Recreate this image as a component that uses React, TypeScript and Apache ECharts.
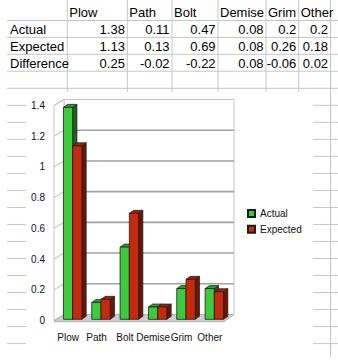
import React, { useEffect, useRef } from 'react';
import * as echarts from 'echarts';

// ---------- data ----------
const categories = ['Plow', 'Path', 'Bolt', 'Demise', 'Grim', 'Other'];
const actual = [1.38, 0.11, 0.47, 0.08, 0.2, 0.2];
const expected = [1.13, 0.13, 0.69, 0.08, 0.26, 0.18];
const difference = [0.25, -0.02, -0.22, 0.08, -0.06, 0.02];
const rowLabels = ['Actual', 'Expected', 'Difference'];
const seriesNames = ['Actual', 'Expected'];
const yTicks = [0, 0.2, 0.4, 0.6, 0.8, 1, 1.2, 1.4];
const Y_MIN = 0;
const Y_MAX = 1.4;
const Y_STEP = 0.2;

// ---------- layout / style ----------
const W = 338;
const H = 363;
const FONT = '"Liberation Sans", Arial, sans-serif';
const SHEET_LINE = '#c6c6c6';
const COL_X = [67.3, 127.3, 172, 218, 266, 298.7, 330.5];
const ROW_LINES_Y = [20.5, 37.4, 54.3, 71.2, 88.3];
const ROW_TEXT_Y = [12.7, 29.3, 46.3, 63.3];
const CHART_BOX = { x0: 26, x1: 313, y0: 92 };
const FRONT = { left: 54, top: 105.5, width: 170, height: 215 };
const WALL_DX = 10;
const WALL_DY = -6;
const BAR_SHIFT = { dx: 4.5, dy: -1.2 };
const BAR_DX = 4.3;
const BAR_DY = -3;
const BAR_FRAC = 0.326;

const COLORS = [
  { front: '#3dcb3d', top: '#2f9c2f', side: '#1d611d' },
  { front: '#c52a0c', top: '#a2200a', side: '#681408' },
];

function sheetGraphics() {
  const els: any[] = [];
  const line = (x1: number, y1: number, x2: number, y2: number) =>
    els.push({
      type: 'line',
      silent: true,
      shape: { x1, y1, x2, y2 },
      style: { stroke: SHEET_LINE, lineWidth: 1 },
    });
  // table rows
  ROW_LINES_Y.forEach((y) => line(7, y, W, y));
  // table columns
  COL_X.forEach((x, i) => line(x, 0, x, i === COL_X.length - 1 ? 357 : CHART_BOX.y0));
  // rows continuing beside the chart
  for (let k = 1; k <= 15; k++) {
    const y = 88.3 + 17.02 * k;
    if (y > 350) break;
    line(7, y, CHART_BOX.x0, y);
    line(CHART_BOX.x1, y, W, y);
  }
  const text = (t: string, x: number, y: number, align: string) =>
    els.push({
      type: 'text',
      silent: true,
      x,
      y,
      style: {
        text: t,
        fill: '#000',
        font: `13px ${FONT}`,
        align,
        verticalAlign: 'middle',
      },
    });
  categories.forEach((c, i) => text(c, COL_X[i] + 2, ROW_TEXT_Y[0], 'left'));
  const rows = [actual, expected, difference];
  rows.forEach((vals, r) => {
    text(rowLabels[r], 10, ROW_TEXT_Y[r + 1], 'left');
    vals.forEach((v, i) => text(String(v), COL_X[i + 1] - 2.4, ROW_TEXT_Y[r + 1], 'right'));
  });
  return els;
}

function renderWalls(params: any, api: any) {
  const cs = params.coordSys;
  const x0 = cs.x;
  const x1 = cs.x + cs.width;
  const yTop = cs.y;
  const yBot = cs.y + cs.height;
  const children: any[] = [];
  // back wall
  children.push({
    type: 'rect',
    shape: { x: x0 + WALL_DX, y: yTop + WALL_DY, width: cs.width, height: cs.height },
    style: { fill: '#fff', stroke: '#c4c4c4', lineWidth: 1 },
  });
  // left wall
  children.push({
    type: 'polygon',
    shape: {
      points: [
        [x0, yBot],
        [x0, yTop],
        [x0 + WALL_DX, yTop + WALL_DY],
        [x0 + WALL_DX, yBot + WALL_DY],
      ],
    },
    style: { fill: '#fff', stroke: '#c8c8c8', lineWidth: 1 },
  });
  yTicks.forEach((v) => {
    const y = api.coord([0, v])[1];
    if (v > Y_MIN && v < Y_MAX) {
      children.push({
        type: 'line',
        shape: { x1: x0 + WALL_DX, y1: y + WALL_DY, x2: x1 + WALL_DX, y2: y + WALL_DY },
        style: { stroke: '#a2a2a2', lineWidth: 1.6 },
      });
    }
    children.push({
      type: 'line',
      shape: { x1: x0, y1: y, x2: x0 + WALL_DX, y2: y + WALL_DY },
      style: { stroke: '#bdbdbd', lineWidth: 1 },
    });
  });
  // floor
  children.push({
    type: 'polygon',
    shape: {
      points: [
        [x0, yBot + 1.2],
        [x1, yBot + 1.2],
        [x1 + WALL_DX, yBot + WALL_DY],
        [x0 + WALL_DX, yBot + WALL_DY],
      ],
    },
    style: { fill: '#cdcdcd', stroke: '#b4b4b4', lineWidth: 1 },
  });
  return { type: 'group', children };
}

function makeBarRenderer(idx: number) {
  return (params: any, api: any) => {
    const i = api.value(0);
    const v = api.value(1);
    const [cx, yTop] = api.coord([i, v]);
    const yBase = api.coord([i, 0])[1];
    const band = api.size([1, 0])[0];
    const w = band * BAR_FRAC;
    const x0 = idx === 0 ? cx - w : cx;
    const x1 = x0 + w;
    const c = COLORS[idx];
    const stroke = '#1c1c1c';
    return {
      type: 'group',
      children: [
        {
          type: 'polygon',
          shape: {
            points: [
              [x1, yTop],
              [x1 + BAR_DX, yTop + BAR_DY],
              [x1 + BAR_DX, yBase + BAR_DY],
              [x1, yBase],
            ],
          },
          style: { fill: c.side, stroke, lineWidth: 0.7 },
        },
        {
          type: 'polygon',
          shape: {
            points: [
              [x0, yTop],
              [x0 + BAR_DX, yTop + BAR_DY],
              [x1 + BAR_DX, yTop + BAR_DY],
              [x1, yTop],
            ],
          },
          style: { fill: c.top, stroke, lineWidth: 0.7 },
        },
        {
          type: 'rect',
          shape: { x: x0, y: yTop, width: w, height: yBase - yTop },
          style: { fill: c.front, stroke, lineWidth: 0.8 },
        },
      ],
    };
  };
}

export default function App() {
  const ref = useRef<HTMLDivElement>(null);
  useEffect(() => {
    document.body.style.margin = '0';
    const chart = echarts.init(ref.current!, null, { renderer: 'svg' });
    const barGrid = {
      left: FRONT.left + BAR_SHIFT.dx,
      top: FRONT.top + BAR_SHIFT.dy,
      width: FRONT.width,
      height: FRONT.height,
    };
    chart.setOption({
      animation: false,
      backgroundColor: '#fff',
      textStyle: { fontFamily: FONT },
      grid: [
        { ...FRONT, containLabel: false },
        { ...barGrid, containLabel: false },
      ],
      xAxis: [
        {
          type: 'category',
          gridIndex: 0,
          data: categories,
          axisLine: { show: false },
          axisTick: { show: false },
          splitLine: { show: false },
          axisLabel: { interval: 0, margin: 12, fontSize: 10, color: '#111', fontFamily: FONT },
        },
        { type: 'category', gridIndex: 1, data: categories, show: false },
      ],
      yAxis: [
        {
          type: 'value',
          gridIndex: 0,
          min: Y_MIN,
          max: Y_MAX,
          interval: Y_STEP,
          axisLine: { show: false },
          axisTick: { show: false },
          splitLine: { show: false },
          axisLabel: { margin: 9, fontSize: 10, color: '#111', fontFamily: FONT },
        },
        { type: 'value', gridIndex: 1, min: Y_MIN, max: Y_MAX, interval: Y_STEP, show: false },
      ],
      legend: {
        data: seriesNames,
        orient: 'vertical',
        left: 247,
        top: 207.5,
        padding: 0,
        itemWidth: 7,
        itemHeight: 7,
        itemGap: 3.7,
        icon: 'rect',
        selectedMode: false,
        textStyle: { fontSize: 10, color: '#111', fontFamily: FONT, lineHeight: 12 },
      },
      graphic: sheetGraphics(),
      series: [
        {
          type: 'custom',
          name: 'walls',
          xAxisIndex: 0,
          yAxisIndex: 0,
          silent: true,
          clip: false,
          z: 1,
          data: [[0, 0]],
          renderItem: renderWalls,
        },
        ...[actual, expected].map((vals, idx) => ({
          type: 'custom',
          name: seriesNames[idx],
          xAxisIndex: 1,
          yAxisIndex: 1,
          clip: false,
          z: 2 + idx,
          itemStyle: { color: COLORS[idx].front, borderColor: '#1c1c1c', borderWidth: 0.8 },
          encode: { x: 0, y: 1 },
          data: vals.map((v, i) => [i, v]),
          renderItem: makeBarRenderer(idx),
        })),
      ],
    });
    return () => chart.dispose();
  }, []);
  return <div ref={ref} style={{ width: W, height: H }} />;
}
